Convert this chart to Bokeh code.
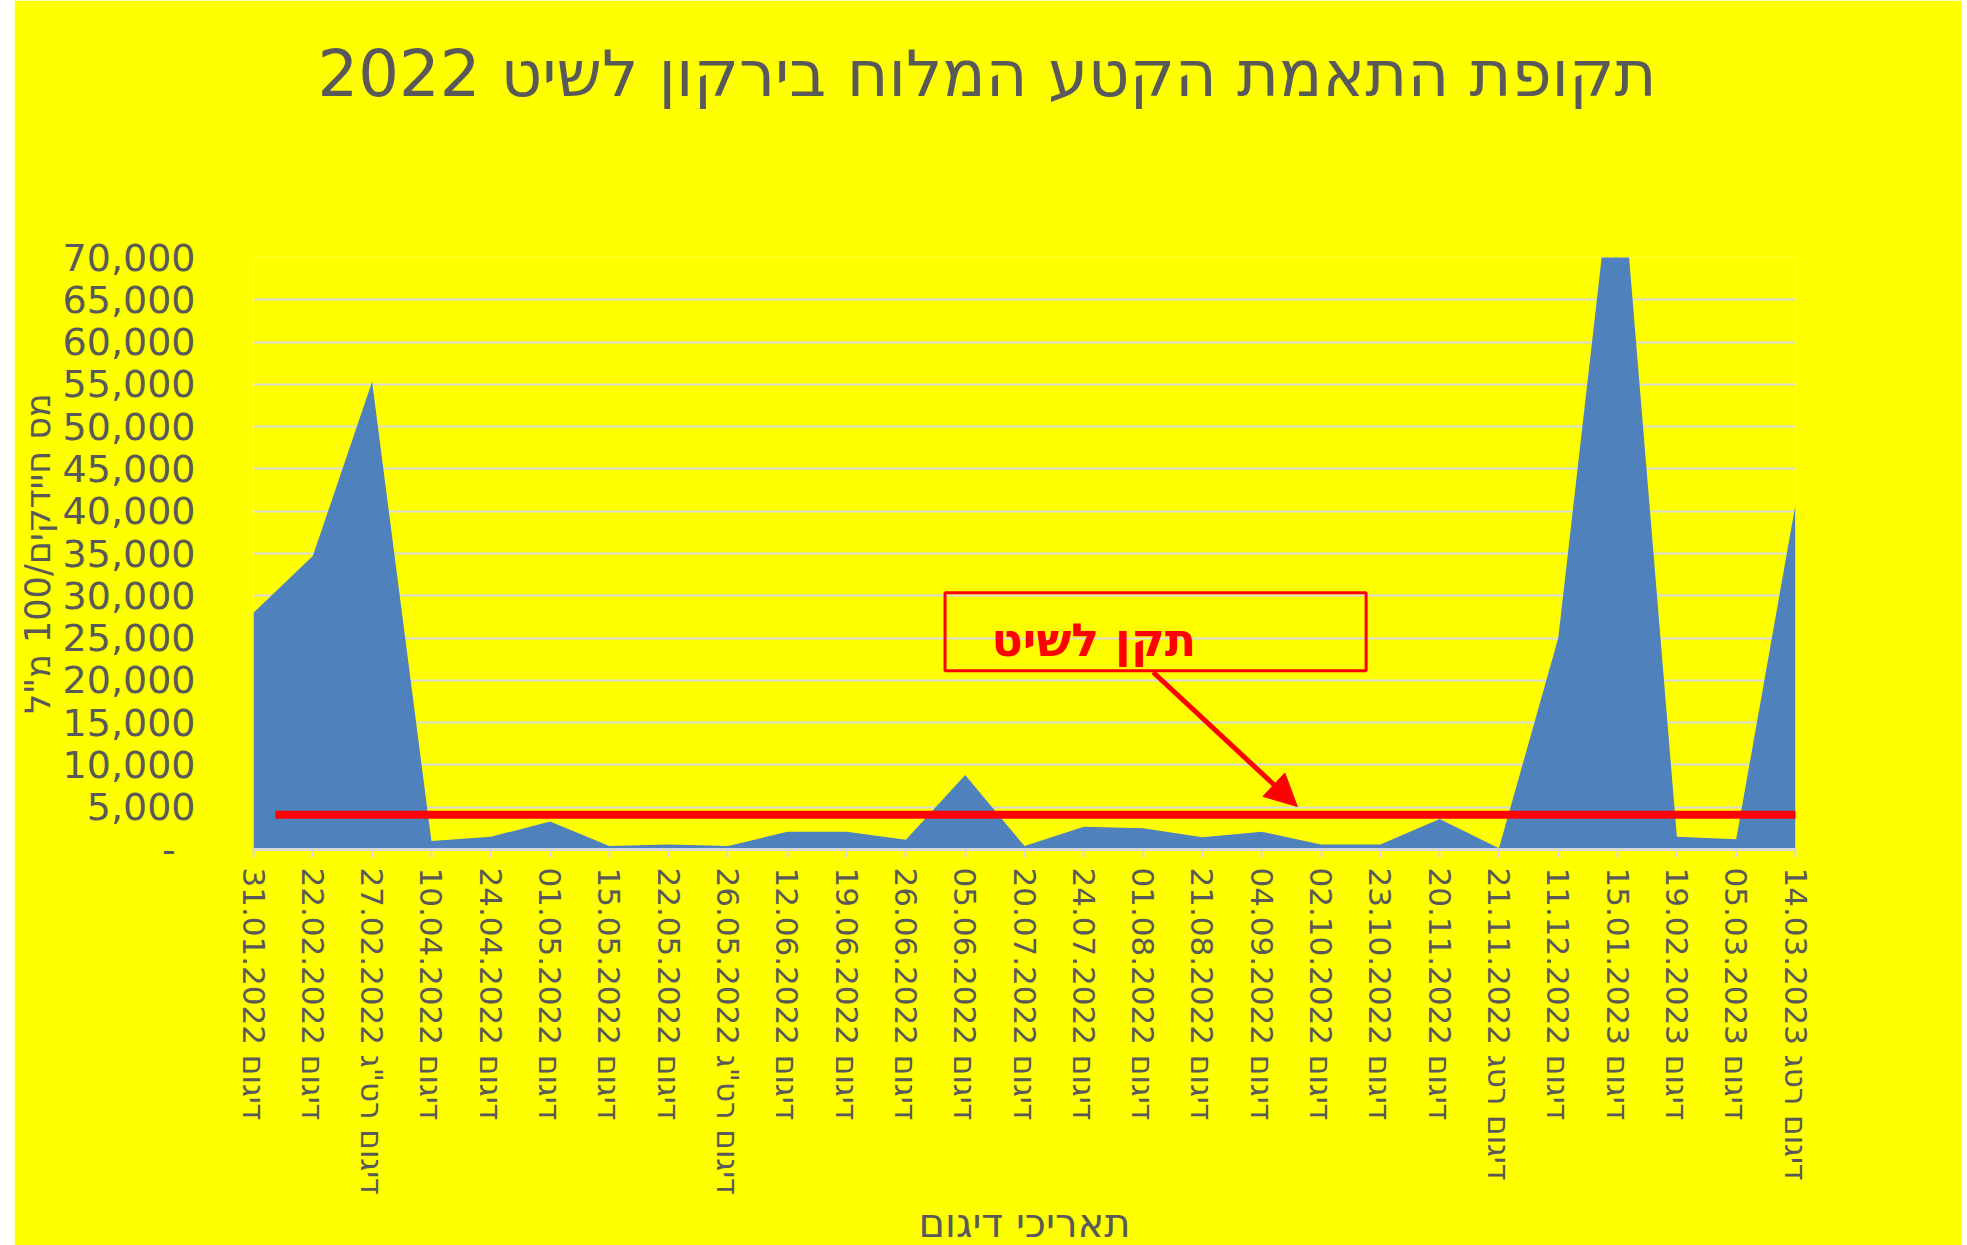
from bokeh.plotting import figure
from bokeh.models import (Range1d, FixedTicker, Label, BoxAnnotation, Arrow, NormalHead,
                          Spacer, Title)
from bokeh.layouts import row
from bokeh.embed import file_html
from bokeh.resources import INLINE

# ---- data ----
tick_labels = [
    "31.01.2022 דיגום", "22.02.2022 דיגום", '27.02.2022 דיגום רט"ג', "10.04.2022 דיגום",
    "24.04.2022 דיגום", "01.05.2022 דיגום", "15.05.2022 דיגום", "22.05.2022 דיגום",
    '26.05.2022 דיגום רט"ג', "12.06.2022 דיגום", "19.06.2022 דיגום", "26.06.2022 דיגום",
    "05.06.2022 דיגום", "20.07.2022 דיגום", "24.07.2022 דיגום", "01.08.2022 דיגום",
    "21.08.2022 דיגום", "04.09.2022 דיגום", "02.10.2022 דיגום", "23.10.2022 דיגום",
    "20.11.2022 דיגום", "21.11.2022 דיגום רטג", "11.12.2022 דיגום", "15.01.2023 דיגום",
    "19.02.2023 דיגום", "05.03.2023 דיגום", "14.03.2023 דיגום רטג",
]
bacteria = [28000, 34700, 55300, 1000, 1500, 3300, 400, 600, 400, 2100, 2100, 1150,
            8800, 400, 2700, 2500, 1450, 2100, 600, 600, 3600, 150, 25000, 86500,
            1500, 1200, 40800]
standard_value = 4100
y_ticks = list(range(0, 70001, 5000))

title_text = "תקופת התאמת הקטע המלוח בירקון לשיט 2022"
y_title = 'מס חיידקים/100 מ"ל'
x_title = "תאריכי דיגום"
note_text = "תקן לשיט"

FONT = "DejaVu Sans"
GRAY = "#595959"
YELLOW = "#FFFF00"
RED = "#FF0000"

idx = list(range(len(bacteria)))

p = figure(frame_width=1542, frame_height=592,
           min_border_left=238, min_border_right=167,
           min_border_top=257, min_border_bottom=396,
           x_range=Range1d(0, len(bacteria) - 1), y_range=Range1d(0, 70000),
           output_backend="svg", toolbar_location=None)

p.background_fill_color = YELLOW
p.border_fill_color = YELLOW
p.outline_line_color = None
p.title.text = ""

# gap between the chart title and the plot area, then the chart title itself
p.add_layout(Title(text=" ", text_font_size="1px", standoff=139), "above")
p.add_layout(Title(text=title_text, align="left", offset=64, standoff=10,
                   text_font=FONT, text_font_size="64px", text_font_style="normal",
                   text_color=GRAY), "above")

p.varea(x=idx, y1=[0] * len(idx), y2=bacteria, fill_color="#4F81BD")

# grid
p.xgrid.grid_line_color = None
p.ygrid.grid_line_color = "#D9D9D9"
p.ygrid.grid_line_width = 2
p.ygrid.ticker = FixedTicker(ticks=y_ticks)

# y axis
ya = p.yaxis[0]
ya.ticker = FixedTicker(ticks=y_ticks)
ya.major_label_overrides = {v: (f"{v:,}" if v else "-\u00a0\u2009") for v in y_ticks}
ya.axis_line_color = None
ya.major_tick_line_color = None
ya.minor_tick_line_color = None
ya.major_tick_out = 0
ya.major_tick_in = 0
ya.major_label_standoff = 58
ya.major_label_text_font = FONT
ya.major_label_text_font_size = "38px"
ya.major_label_text_color = GRAY
ya.axis_label = y_title
ya.axis_label_text_font = FONT
ya.axis_label_text_font_size = "35px"
ya.axis_label_text_font_style = "normal"
ya.axis_label_text_color = GRAY
ya.axis_label_standoff = 2

# x axis
xa = p.xaxis[0]
xa.ticker = FixedTicker(ticks=idx)
xa.major_label_overrides = {i: t for i, t in zip(idx, tick_labels)}
xa.major_label_orientation = "vertical"
xa.axis_line_color = "#D9D9D9"
xa.axis_line_width = 3
xa.major_tick_line_color = "#D9D9D9"
xa.major_tick_line_width = 2
xa.major_tick_out = 8
xa.major_tick_in = 0
xa.minor_tick_line_color = None
xa.major_label_standoff = 10
xa.major_label_text_font = FONT
xa.major_label_text_font_size = "31px"
xa.major_label_text_color = GRAY
xa.axis_label = x_title
xa.axis_label_text_font = FONT
xa.axis_label_text_font_size = "40px"
xa.axis_label_text_font_style = "normal"
xa.axis_label_text_color = GRAY
xa.axis_label_standoff = 2

# standard line
p.segment(x0=[0.37], y0=[standard_value], x1=[26.2], y1=[standard_value],
          line_color=RED, line_width=8)

# annotation box, text and arrow
p.add_layout(BoxAnnotation(left=11.66, right=18.76, bottom=21130, top=30350,
                           fill_color=None, fill_alpha=0, line_color=RED,
                           line_alpha=1, line_width=3))
p.add_layout(Label(x=14.17, y=24800, text=note_text, text_align="center",
                   text_baseline="alphabetic", text_color=RED, text_font=FONT,
                   text_font_size="46px", text_font_style="bold"))
p.add_layout(Arrow(end=NormalHead(size=32, fill_color=RED, line_color=RED),
                   x_start=15.17, y_start=20960, x_end=17.6, y_end=5080,
                   line_color=RED, line_width=5))

layout = row(Spacer(width=14, height=1245), p)
open("out.html", "w").write(file_html(layout, INLINE))
